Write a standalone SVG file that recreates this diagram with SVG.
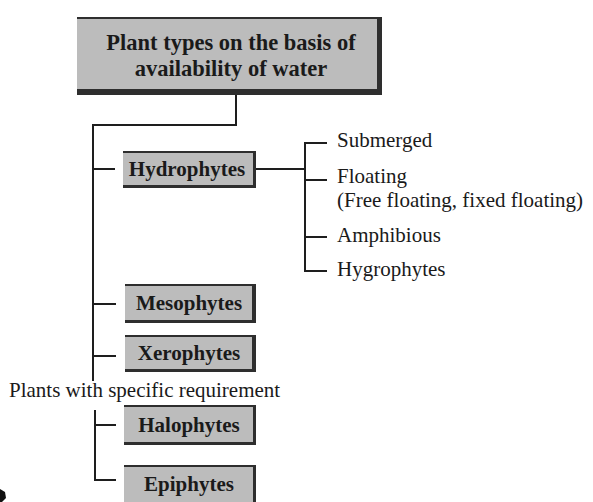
<svg xmlns="http://www.w3.org/2000/svg" width="593" height="502" viewBox="0 0 593 502">
<style>
.shadow{fill:#2e2e2e}
.box{fill:#bcbcbc}
.bt{font-family:"Liberation Serif","Times New Roman",serif;font-weight:bold;font-size:21px;fill:#1a1a1a;text-anchor:middle}
.tt{font-family:"Liberation Serif","Times New Roman",serif;font-weight:bold;font-size:22.5px;fill:#1a1a1a;text-anchor:middle}
.lt{font-family:"Liberation Serif","Times New Roman",serif;font-size:21px;fill:#1a1a1a}
.ln{fill:none;stroke:#1e1e1e;stroke-width:2}
</style>
<rect width="593" height="502" fill="#ffffff"/>
<g id="connectors">
<path class="ln" d="M236 95 V125 H93 V381"/>
<path class="ln" d="M93 169 H115 M93 304 H116 M93 356 H116"/>
<path class="ln" d="M95 410 V480 H116 M95 425 H116"/>
<path class="ln" d="M256 169 H305 M327 143 H305 V271 H327 M305 180 H327 M305 237 H327"/>
</g>
<g id="title">
<rect class="shadow" x="77" y="17" width="305" height="78"/>
<rect class="box" x="77" y="19" width="300" height="70"/>
<text class="tt" x="231" y="50">Plant types on the basis of<tspan x="231" y="76">availability of water</tspan></text>
</g>
<g id="hydrophytes">
<rect class="shadow" x="123" y="151" width="133" height="37"/>
<rect class="box" x="123" y="153" width="130" height="32"/>
<text class="bt" x="187" y="176">Hydrophytes</text>
</g>
<g id="hydro-types">
<text class="lt" x="337" y="147">Submerged</text>
<text class="lt" x="337" y="183">Floating</text>
<text class="lt" x="337" y="207">(Free floating, fixed floating)</text>
<text class="lt" x="337" y="242">Amphibious</text>
<text class="lt" x="337" y="276">Hygrophytes</text>
</g>
<g id="mesophytes">
<rect class="shadow" x="125" y="284" width="131" height="39"/>
<rect class="box" x="125" y="286" width="127" height="34"/>
<text class="bt" x="189" y="310">Mesophytes</text>
</g>
<g id="xerophytes">
<rect class="shadow" x="125" y="335" width="131" height="37"/>
<rect class="box" x="125" y="337" width="127" height="32"/>
<text class="bt" x="189" y="360">Xerophytes</text>
</g>
<g id="specific">
<text class="lt" x="9" y="397">Plants with specific requirement</text>
</g>
<g id="halophytes">
<rect class="shadow" x="124" y="405" width="132" height="40"/>
<rect class="box" x="124" y="407" width="129" height="35"/>
<text class="bt" x="189" y="432">Halophytes</text>
</g>
<g id="epiphytes">
<rect class="shadow" x="124" y="465" width="132" height="45"/>
<rect class="box" x="124" y="467" width="129" height="45"/>
<text class="bt" x="189" y="491">Epiphytes</text>
</g>
<path d="M0 489 L5 492 L6 498 L2 502 L0 502 Z" fill="#111"/>
</svg>
